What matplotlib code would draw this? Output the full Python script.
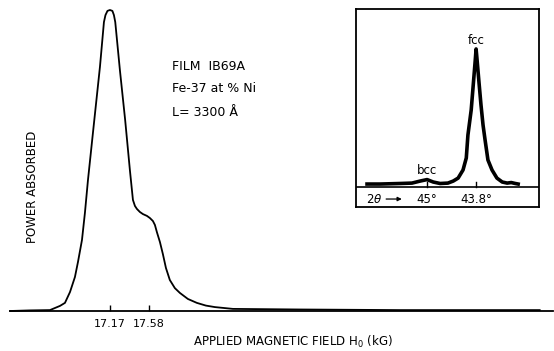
import matplotlib
matplotlib.use("Agg")
import matplotlib.pyplot as plt

# FMR absorption trace (applied field in kG, power in arbitrary units)
field_kG = [16.12, 16.33, 16.539, 16.592, 16.645, 16.697, 16.75, 16.802,
            16.834, 16.876, 16.907, 16.939, 16.991, 17.065, 17.107, 17.123,
            17.144, 17.17, 17.196, 17.212, 17.226, 17.275, 17.33, 17.38,
            17.412, 17.433, 17.454, 17.485, 17.517, 17.559, 17.59, 17.622,
            17.643, 17.664, 17.696, 17.727, 17.759, 17.80, 17.853, 17.906,
            17.99, 18.084, 18.179, 18.274, 18.463, 19.17, 20.22, 21.69]
power = [0.0, 0.002, 0.003, 0.010, 0.017, 0.027, 0.063, 0.113,
         0.163, 0.236, 0.326, 0.435, 0.591, 0.811, 0.960, 0.983,
         0.997, 1.0, 0.997, 0.983, 0.960, 0.80, 0.635, 0.468,
         0.369, 0.349, 0.339, 0.329, 0.322, 0.316, 0.309, 0.299,
         0.286, 0.262, 0.229, 0.189, 0.143, 0.103, 0.076, 0.060,
         0.040, 0.027, 0.018, 0.013, 0.007, 0.005, 0.003, 0.003]
field_ticks = [17.17, 17.58]
field_tick_labels = ["17.17", "17.58"]

# X-ray diffraction scan shown in the inset (2-theta in degrees, relative intensity)
two_theta = [46.47, 46.15, 45.66, 45.37, 45.17, 45.00, 44.85, 44.68, 44.49,
             44.36, 44.24, 44.12, 44.04, 44.00, 43.92, 43.87, 43.82, 43.80,
             43.78, 43.73, 43.68, 43.63, 43.58, 43.51, 43.41, 43.29, 43.16,
             43.04, 42.94, 42.84, 42.77]
intensity = [0.0, 0.0, 0.004, 0.007, 0.022, 0.033, 0.015, 0.004, 0.007,
             0.022, 0.044, 0.104, 0.193, 0.363, 0.548, 0.733, 0.919, 1.0,
             0.933, 0.756, 0.585, 0.437, 0.326, 0.178, 0.104, 0.044, 0.015,
             0.007, 0.011, 0.004, 0.0]
peak_positions = [45.0, 43.8]
peak_names = ["bcc", "fcc"]
peak_heights = [0.033, 1.0]
peak_tick_labels = ["45°", "43.8°"]

W, H = 554, 351
fig = plt.figure(figsize=(W / 100, H / 100), dpi=100)

# main panel
ax = fig.add_axes([10 / W, 1 - 311 / H, 543 / W, 301 / H])
ax.plot(field_kG, power, color="black", lw=1.3, clip_on=False,
        solid_joinstyle="round")
ax.set_xlim(16.119, 21.83)
ax.set_ylim(0, 1.0)
for s in ["top", "right", "left"]:
    ax.spines[s].set_visible(False)
ax.spines["bottom"].set_linewidth(1.3)
ax.set_yticks([])
ax.set_xticks(field_ticks)
ax.set_xticklabels(field_tick_labels, fontsize=8)
ax.tick_params(axis="x", direction="in", length=4, width=1, pad=6)
fig.text(293 / W, 1 - 342 / H, "APPLIED MAGNETIC FIELD H$_0$ (kG)",
         ha="center", va="center", fontsize=8.5)
fig.text(32 / W, 1 - 187 / H, "POWER ABSORBED", rotation=90,
         ha="center", va="center", fontsize=8.5)

sample_lines = ["FILM  IB69A", "Fe-37 at % Ni", "L= 3300 Å"]
for txt, ypix in zip(sample_lines, [67, 88, 112]):
    fig.text(172 / W, 1 - ypix / H, txt, ha="left", va="center", fontsize=9)

# inset: diffraction scan
y_top, y_bot = 1.296, -0.170
line_y = -0.022
ins = fig.add_axes([356 / W, 1 - 207 / H, 183 / W, 198 / H])
ins.plot(two_theta, intensity, color="black", lw=2.6, solid_joinstyle="round")
ins.set_xlim(46.74, 42.26)
ins.set_ylim(y_bot, y_top)
ins.set_xticks([])
ins.set_yticks([])
for s in ins.spines.values():
    s.set_linewidth(1.3)
ins.axhline(line_y, color="black", lw=1.2)
for pos, name, h, lab in zip(peak_positions, peak_names, peak_heights,
                             peak_tick_labels):
    ins.plot([pos, pos], [line_y, line_y + 0.035], color="black", lw=1)
    ins.text(pos, h + 0.065, name, ha="center", va="center", fontsize=8.5)
    ins.text(pos, -0.111, lab, ha="center", va="center", fontsize=8.5)
ins.text(46.50, -0.111, "2$\\theta$", ha="left", va="center", fontsize=8.5)
ins.annotate("", xy=(45.55, -0.111), xytext=(46.07, -0.111),
             arrowprops=dict(arrowstyle="-|>", color="black", lw=0.9,
                             mutation_scale=6))

fig.savefig("out.png", dpi=100)
